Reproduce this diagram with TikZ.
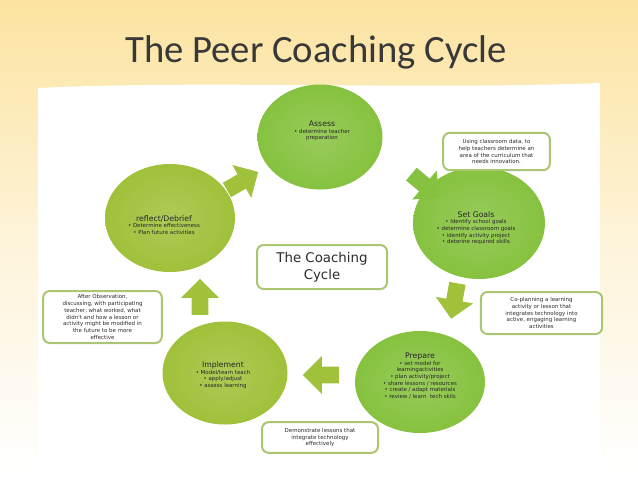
\documentclass[tikz,border=0pt]{standalone}
\usepackage{fontspec}
\setmainfont{Carlito}
\newfontfamily\verd{DejaVu Sans}
\usetikzlibrary{shapes.geometric,shapes.arrows}
\definecolor{leaf}{HTML}{86C23F}
\definecolor{lime}{HTML}{A0C13A}
\definecolor{rim}{HTML}{ABC670}
\definecolor{sand}{HTML}{FCE3A0}
\definecolor{ink}{HTML}{2B2B2B}
\tikzset{
	phase/.style={ellipse,inner sep=0pt,draw=none},
	note/.style={draw=rim,line width=1.5pt,rounded corners=5pt,fill=white,inner sep=0pt},
	notetxt/.style={font=\verd\fontsize{4.1}{5.2}\selectfont,align=center,text=ink},
	phasetxt/.style={font=\verd\fontsize{4.1}{5}\selectfont,align=center,text=black!85},
	turn/.style={single arrow,draw=none,fill=lime,minimum height=27pt,single arrow head extend=8pt,inner sep=6pt}
}
\newcommand{\phasehead}[1]{{\fontsize{5.8}{7.5}\selectfont #1}}
\begin{document}
\begin{tikzpicture}[x=0.75pt,y=-0.75pt]
	\useasboundingbox (0,0) rectangle (638,479);
	\shade[top color=sand,bottom color=white,middle color=sand!40] (0,0) rectangle (638,479);
	\fill[white] (38,479) -- (38,88) .. controls (200,80) and (420,90) .. (600,83) -- (600,479) -- cycle;
	\node[font=\fontsize{29}{31}\selectfont,text=black!78,anchor=base] (title) at (316,62) {The Peer Coaching Cycle};
	\coordinate (A) at (320,137);
	\coordinate (S) at (479,223);
	\coordinate (P) at (420,382);
	\coordinate (I) at (225,373);
	\coordinate (R) at (170,218);
	\node[phase,minimum width=93.75pt,minimum height=78.75pt,inner color=leaf!85!white,outer color=leaf] (assess) at (A) {};
	\node[phase,minimum width=99pt,minimum height=84pt,inner color=leaf!85!white,outer color=leaf] (goals) at (S) {};
	\node[phase,minimum width=97.5pt,minimum height=76.5pt,inner color=leaf!85!white,outer color=leaf] (prepare) at (P) {};
	\node[phase,minimum width=93.75pt,minimum height=77.25pt,inner color=lime!85!white,outer color=lime] (implement) at (I) {};
	\node[phase,minimum width=97.5pt,minimum height=81pt,inner color=lime!85!white,outer color=lime] (reflect) at (R) {};
	\node[phasetxt] (assesstxt) at (322,131) {\phasehead{Assess}\\• determine teacher\\preparation};
	\node[phasetxt] (goalstxt) at (476,228) {\phasehead{Set Goals}\\• Identify school goals\\• determine classroom goals\\• identify activity project\\• deterine required skills};
	\node[phasetxt] (preparetxt) at (420,376) {\phasehead{Prepare}\\• set model for\\learningactivities\\• plan activity/project\\• share lessons / resources\\• create / adapt materials\\• review / learn\ \ tech skils};
	\node[phasetxt] (implementtxt) at (223,375) {\phasehead{Implement}\\• Model/team teach\\• apply/adjust\\• assess learning};
	\node[phasetxt] (reflecttxt) at (164,225) {\phasehead{reflect/Debrief}\\• Determine effectiveness\\• Plan future activities};
	\node[note,minimum width=80pt,minimum height=28pt] (data) at (496.5,151.5) {};
	\node[notetxt] (datatxt) at (data) {Using classroom data, to\\help teachers determine an\\area of the curriculum that\\needs innovation.};
	\node[note,minimum width=91pt,minimum height=31.5pt] (coplan) at (541.5,313) {};
	\node[notetxt] (coplantxt) at (coplan) {Co-planning a learning\\activity or lesson that\\integrates technology into\\active, engaging learning\\activities};
	\node[note,minimum width=87pt,minimum height=23pt] (demo) at (320,437.5) {};
	\node[notetxt] (demotxt) at (demo) {Demonstrate lessons that\\integrate technology\\effectively};
	\node[note,minimum width=89pt,minimum height=39pt] (after) at (102.5,317) {};
	\node[notetxt] (aftertxt) at (after) {After Observation,\\discussing, with participating\\teacher, what worked, what\\didn't and how a lesson or\\activity might be modified in\\the future to be more\\effective};
	\node[note,minimum width=97.5pt,minimum height=33pt] (cycle) at (322,267) {};
	\node[font=\verd\fontsize{10}{13}\selectfont,align=center,text=ink] (cycletxt) at (cycle) {The Coaching\\Cycle};
	\node[turn,rotate=30] (toassess) at (239,183) {};
	\node[turn,rotate=-40,fill=leaf] (togoals) at (422,183) {};
	\node[turn,rotate=-100] (toprepare) at (455,297) {};
	\node[turn,rotate=180] (toimplement) at (325,375) {};
	\node[turn,rotate=90] (toreflect) at (200,301) {};
\end{tikzpicture}
\end{document}
